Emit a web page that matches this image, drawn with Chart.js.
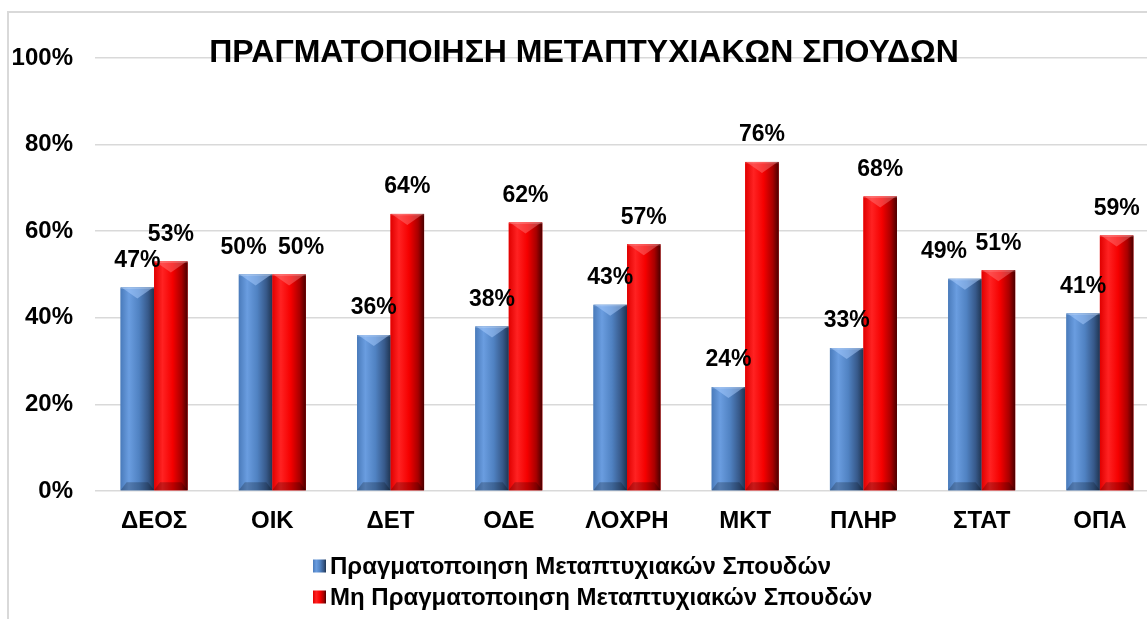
<!DOCTYPE html>
<html>
<head>
<meta charset="utf-8">
<script src="https://cdn.jsdelivr.net/npm/chart.js@4.4.1/dist/chart.umd.min.js"></script>
<style>
  html, body { margin: 0; padding: 0; background: #ffffff; overflow: hidden; width: 1147px; height: 619px; }
  #frame { position: absolute; left: 7px; top: 11px; width: 1300px; height: 700px;
           border-left: 2px solid #d9d9d9; border-top: 2px solid #d9d9d9; }
  #c { position: absolute; left: 0; top: 0; }
</style>
</head>
<body>
<div id="frame"></div>
<canvas id="c" width="1166" height="619"></canvas>
<script>
// ---- data ----
const chartTitle = 'ΠΡΑΓΜΑΤΟΠΟΙΗΣΗ ΜΕΤΑΠΤΥΧΙΑΚΩΝ ΣΠΟΥΔΩΝ';
const categories = ['ΔΕΟΣ', 'ΟΙΚ', 'ΔΕΤ', 'ΟΔΕ', 'ΛΟΧΡΗ', 'ΜΚΤ', 'ΠΛΗΡ', 'ΣΤΑΤ', 'ΟΠΑ'];
const seriesNames = ['Πραγματοποιηση Μεταπτυχιακών Σπουδών', 'Μη Πραγματοποιηση Μεταπτυχιακών Σπουδών'];
const doneValues = [47, 50, 36, 38, 43, 24, 33, 49, 41];
const notDoneValues = [53, 50, 64, 62, 57, 76, 68, 51, 59];
const yTicks = [0, 20, 40, 60, 80, 100];

const FONT = "'Liberation Sans', Arial, Helvetica, sans-serif";

const palettes = [
  { base: '#4F81BD', stops: [[0, '#4a7bbb'], [0.25, '#6a9de0'], [0.55, '#5082c2'], [0.82, '#37598a'], [1, '#1f3552']],
    top: 'rgba(170,205,255,0.5)' },
  { base: '#FF0000', stops: [[0, '#e00000'], [0.25, '#ff2222'], [0.55, '#f50000'], [0.82, '#a80000'], [1, '#4a0000']],
    top: 'rgba(255,140,140,0.4)' }
];

// label nudges (styling only): key "dataset-index" -> dx in px
const labelNudge = { '0-1': -12, '1-1': 12, '0-7': -21 };

const barStylePlugin = {
  id: 'barStyle',
  afterDatasetsDraw(chart) {
    const ctx = chart.ctx;
    chart.data.datasets.forEach((ds, di) => {
      const meta = chart.getDatasetMeta(di);
      const pal = palettes[di];
      meta.data.forEach((el, i) => {
        const p = el.getProps(['x', 'y', 'base', 'width'], true);
        const l = p.x - p.width / 2, r = p.x + p.width / 2, t = p.y, b = p.base;
        ctx.save();
        const g = ctx.createLinearGradient(l, 0, r, 0);
        pal.stops.forEach(s => g.addColorStop(s[0], s[1]));
        ctx.fillStyle = g;
        ctx.fillRect(l, t, r - l, b - t);
        // top bevel (V shape)
        ctx.beginPath();
        ctx.moveTo(l + 1, t);
        ctx.lineTo(r - 1, t);
        ctx.lineTo(p.x, t + 11);
        ctx.closePath();
        ctx.fillStyle = pal.top;
        ctx.fill();
        ctx.fillStyle = 'rgba(255,255,255,0.18)';
        ctx.fillRect(l, t, r - l, 1.5);
        // bottom bevel
        ctx.beginPath();
        ctx.moveTo(l, b);
        ctx.lineTo(r, b);
        ctx.lineTo(r - 6, b - 8);
        ctx.lineTo(l + 6, b - 8);
        ctx.closePath();
        ctx.fillStyle = 'rgba(0,0,0,0.22)';
        ctx.fill();
        ctx.restore();
      });
    });
    // value labels
    ctx.save();
    ctx.font = 'bold 23px ' + FONT;
    ctx.fillStyle = '#000000';
    ctx.textAlign = 'center';
    ctx.textBaseline = 'middle';
    chart.data.datasets.forEach((ds, di) => {
      const meta = chart.getDatasetMeta(di);
      meta.data.forEach((el, i) => {
        const p = el.getProps(['x', 'y'], true);
        const dx = labelNudge[di + '-' + i] || 0;
        ctx.fillText(ds.data[i] + '%', p.x + dx, p.y - 27);
      });
    });
    ctx.restore();
  },
  afterDraw(chart) {
    const ctx = chart.ctx;
    // title
    ctx.save();
    ctx.font = 'bold 32px ' + FONT;
    ctx.fillStyle = '#000000';
    ctx.textAlign = 'center';
    ctx.textBaseline = 'alphabetic';
    ctx.fillText(chartTitle, 584, 62);
    // legend
    ctx.font = 'bold 24px ' + FONT;
    ctx.textAlign = 'left';
    ctx.textBaseline = 'middle';
    const rows = [566, 597];
    chart.data.datasets.forEach((ds, di) => {
      const y = rows[di];
      const x0 = 313, s = 13;
      const g = ctx.createLinearGradient(x0, 0, x0 + s, 0);
      palettes[di].stops.forEach(st => g.addColorStop(st[0], st[1]));
      ctx.fillStyle = g;
      ctx.fillRect(x0, y - s / 2, s, s);
      ctx.fillStyle = '#000000';
      ctx.fillText(ds.label, 330, y + 1);
    });
    ctx.restore();
  }
};

new Chart(document.getElementById('c'), {
  type: 'bar',
  data: {
    labels: categories,
    datasets: [
      { label: seriesNames[0], data: doneValues, backgroundColor: palettes[0].base, borderWidth: 0 },
      { label: seriesNames[1], data: notDoneValues, backgroundColor: palettes[1].base, borderWidth: 0 }
    ]
  },
  options: {
    responsive: false,
    devicePixelRatio: 1,
    animation: false,
    layout: { padding: { left: 0, top: 58, right: 7, bottom: 0 } },
    datasets: { bar: { categoryPercentage: 0.567, barPercentage: 1.0 } },
    plugins: {
      legend: { display: false },
      title: { display: false },
      tooltip: { enabled: false }
    },
    scales: {
      x: {
        grid: { display: false, drawTicks: false },
        border: { display: false },
        ticks: { color: '#000000', font: { family: FONT, size: 24, weight: 'bold' }, padding: 16, maxRotation: 0 },
        afterFit(scale) { scale.height = 128; }
      },
      y: {
        min: 0, max: 100,
        afterBuildTicks(scale) { scale.ticks = yTicks.map(v => ({ value: v })); },
        grid: { color: '#d9d9d9', lineWidth: 1.5, drawTicks: false },
        border: { display: false },
        ticks: { color: '#000000', font: { family: FONT, size: 24, weight: 'bold' }, padding: 22,
                 callback: v => v + '%' },
        afterFit(scale) { scale.width = 95; }
      }
    }
  },
  plugins: [barStylePlugin]
});
</script>
</body>
</html>
